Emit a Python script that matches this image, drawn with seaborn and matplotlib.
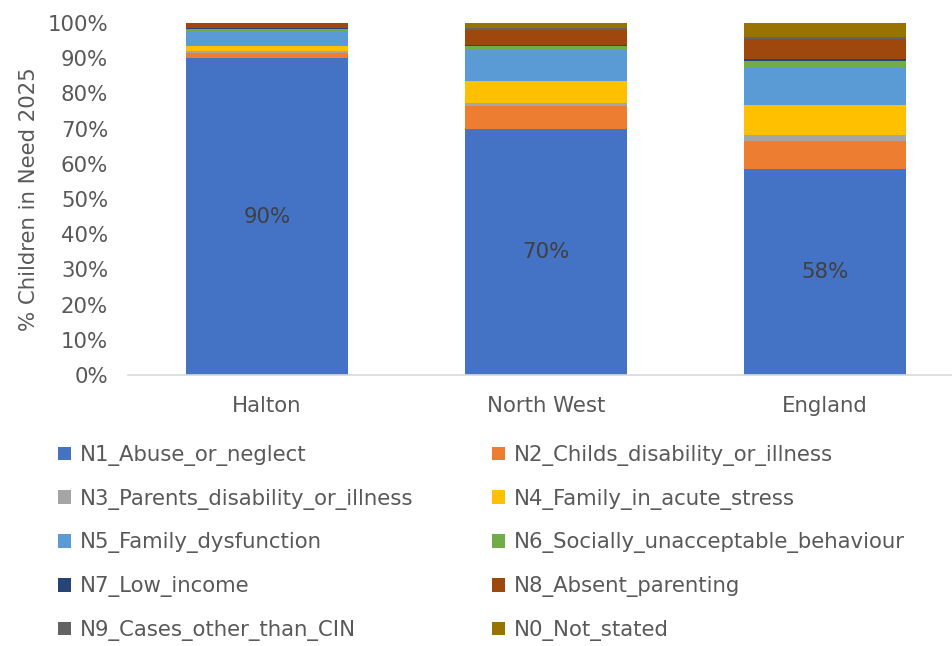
import matplotlib
matplotlib.use("Agg")
import matplotlib.pyplot as plt
from matplotlib.patches import Patch
import seaborn as sns
import pandas as pd
import numpy as np

sns.set_theme(style="white")
plt.rcParams["font.family"] = ["DejaVu Sans"]

areas = ["Halton", "North West", "England"]
factors = [
    "N1_Abuse_or_neglect",
    "N2_Childs_disability_or_illness",
    "N3_Parents_disability_or_illness",
    "N4_Family_in_acute_stress",
    "N5_Family_dysfunction",
    "N6_Socially_unacceptable_behaviour",
    "N7_Low_income",
    "N8_Absent_parenting",
    "N9_Cases_other_than_CIN",
    "N0_Not_stated",
]
# share of children in need by primary need code (%), per area
halton = [90.0, 1.6, 0.4, 1.4, 4.4, 0.6, 0.1, 1.4, 0.0, 0.1]
north_west = [70.0, 6.3, 1.0, 6.2, 8.7, 1.2, 0.4, 4.3, 0.5, 1.4]
england = [58.4, 8.1, 1.8, 8.5, 10.4, 2.1, 0.5, 5.6, 0.5, 4.1]
colors = ["#4472C4", "#ED7D31", "#A5A5A5", "#FFC000", "#5B9BD5",
          "#70AD47", "#264478", "#9E480E", "#636363", "#997300"]

df = pd.DataFrame({"Halton": halton, "North West": north_west, "England": england},
                  index=factors)

fig = plt.figure(figsize=(9.52, 6.46), dpi=100)
ax = fig.add_axes([127.5 / 952, 1 - 375 / 646, 837 / 952, 352 / 646])

text_col = "#595959"
fs = 15.3
bottom = np.zeros(len(areas))
for factor, col in zip(factors, colors):
    vals = df.loc[factor, areas].to_numpy()
    sns.barplot(x=areas, y=vals, bottom=bottom, color=col, width=0.58,
                saturation=1, ax=ax, edgecolor="none", linewidth=0)
    bottom = bottom + vals

# label the main segment of each bar
for i, a in enumerate(areas):
    v = df.loc[factors[0], a]
    ax.text(i, v / 2, f"{v:.0f}%", ha="center", va="center",
            fontsize=fs, color="#404040")

ax.set_xlim(-0.5, 2.5)
ax.set_ylim(0, 100)
ax.set_yticks(np.arange(0, 101, 10))
ax.set_yticklabels([f"{t}%" for t in range(0, 101, 10)])
ax.tick_params(axis="both", labelsize=fs, colors=text_col, length=0)
ax.tick_params(axis="y", pad=14)
ax.tick_params(axis="x", pad=15)
for s in ["top", "right", "left"]:
    ax.spines[s].set_visible(False)
ax.spines["bottom"].set_color("#D9D9D9")
ax.spines["bottom"].set_linewidth(1.2)
ax.set_ylabel("% Children in Need 2025", fontsize=fs, color=text_col, labelpad=6)
ax.set_xlabel("")

handles = [Patch(facecolor=c, edgecolor="none", label=f) for f, c in zip(factors, colors)]
order = [0, 2, 4, 6, 8, 1, 3, 5, 7, 9]
fig.legend([handles[i] for i in order], [factors[i] for i in order],
           ncol=2, loc="upper left", bbox_to_anchor=(58 / 952, 1 - 445 / 646),
           frameon=False, fontsize=fs, labelcolor=text_col,
           borderpad=0, borderaxespad=0,
           handlelength=0.62, handleheight=0.62, handletextpad=0.4,
           columnspacing=3.7, labelspacing=1.07)

fig.savefig("out.png", dpi=100)
